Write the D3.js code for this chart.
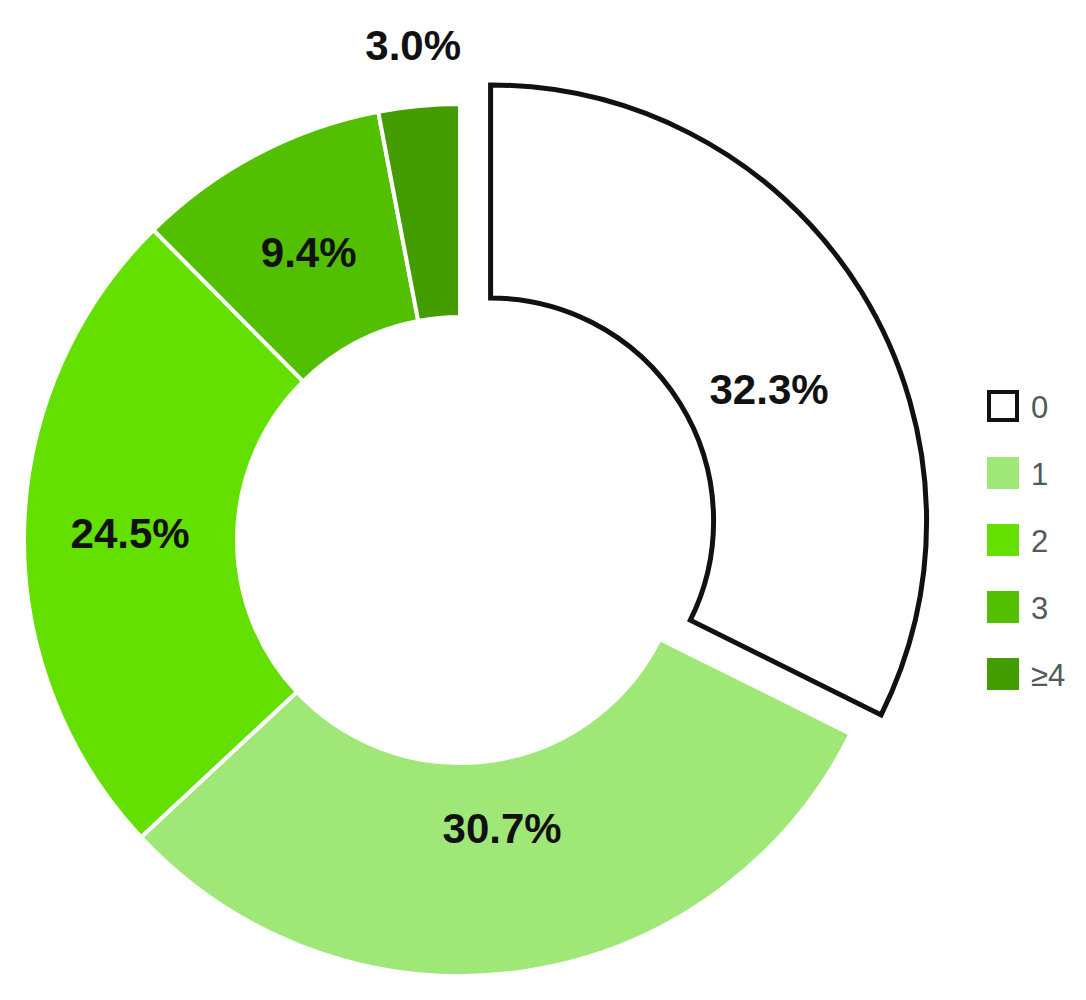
<!DOCTYPE html>
<html>
<head>
<meta charset="utf-8">
<script src="https://cdn.jsdelivr.net/npm/d3@7"></script>
<style>
html,body{margin:0;padding:0;background:#fff;}
</style>
</head>
<body>
<svg id="chart" width="1086" height="1000"></svg>
<script>
// ---- data ----
const categories = ["0", "1", "2", "3", "\u22654"];
const values = [32.3, 30.7, 24.5, 9.4, 3.0];
const labels = ["32.3%", "30.7%", "24.5%", "9.4%", "3.0%"];
const colors = ["#ffffff", "#9fe878", "#63e000", "#52c000", "#439c00"];

// ---- layout ----
const cx = 460, cy = 540, rOuter = 436, rInner = 223;
const explode = [36, 0, 0, 0, 0];
const labelRadius = [308, 292, 330, 325, 497];
const labelAngleShift = [6.5, 0, 0, 0, 0]; // degrees

const svg = d3.select("#chart");
const g = svg.append("g").attr("transform", `translate(${cx},${cy})`);

const pie = d3.pie().sort(null).value(d => d)(values);
const arc = d3.arc().innerRadius(rInner).outerRadius(rOuter);

const slices = g.selectAll("g.slice").data(pie).join("g")
  .attr("class", "slice")
  .attr("transform", (d, i) => {
    const a = (d.startAngle + d.endAngle) / 2;
    return `translate(${Math.sin(a) * explode[i]},${-Math.cos(a) * explode[i]})`;
  });

slices.append("path")
  .attr("d", arc)
  .attr("fill", (d, i) => colors[i])
  .attr("stroke", (d, i) => i === 0 ? "#111" : "#fff")
  .attr("stroke-width", (d, i) => i === 0 ? 5 : 4)
  .attr("stroke-linejoin", "miter");

slices.filter((d, i) => i === 0).raise();

// labels
g.selectAll("text.lbl").data(pie).join("text")
  .attr("class", "lbl")
  .attr("x", (d, i) => {
    const m = (d.startAngle + d.endAngle) / 2;
    const a = m + labelAngleShift[i] * Math.PI / 180;
    return Math.sin(m) * explode[i] + Math.sin(a) * labelRadius[i];
  })
  .attr("y", (d, i) => {
    const m = (d.startAngle + d.endAngle) / 2;
    const a = m + labelAngleShift[i] * Math.PI / 180;
    return -Math.cos(m) * explode[i] - Math.cos(a) * labelRadius[i];
  })
  .attr("text-anchor", "middle")
  .attr("dominant-baseline", "central")
  .attr("font-family", "'Liberation Sans', Arial, sans-serif")
  .attr("font-weight", "bold")
  .attr("font-size", 42)
  .attr("fill", "#111")
  .text((d, i) => labels[i]);

// legend
const legend = svg.append("g").attr("transform", "translate(987,390)");
const item = legend.selectAll("g").data(categories).join("g")
  .attr("transform", (d, i) => `translate(0,${i * 67})`);
item.append("rect")
  .attr("x", (d, i) => i === 0 ? 2 : 0)
  .attr("y", (d, i) => i === 0 ? 2 : 0)
  .attr("width", (d, i) => i === 0 ? 28 : 32)
  .attr("height", (d, i) => i === 0 ? 28 : 32)
  .attr("fill", (d, i) => colors[i])
  .attr("stroke", (d, i) => i === 0 ? "#111" : "none")
  .attr("stroke-width", 4);
item.append("text")
  .attr("x", 44)
  .attr("y", 17)
  .attr("dominant-baseline", "central")
  .attr("font-family", "'Liberation Sans', Arial, sans-serif")
  .attr("font-size", 31)
  .attr("fill", "#4f5a5a")
  .text(d => d);
</script>
</body>
</html>
